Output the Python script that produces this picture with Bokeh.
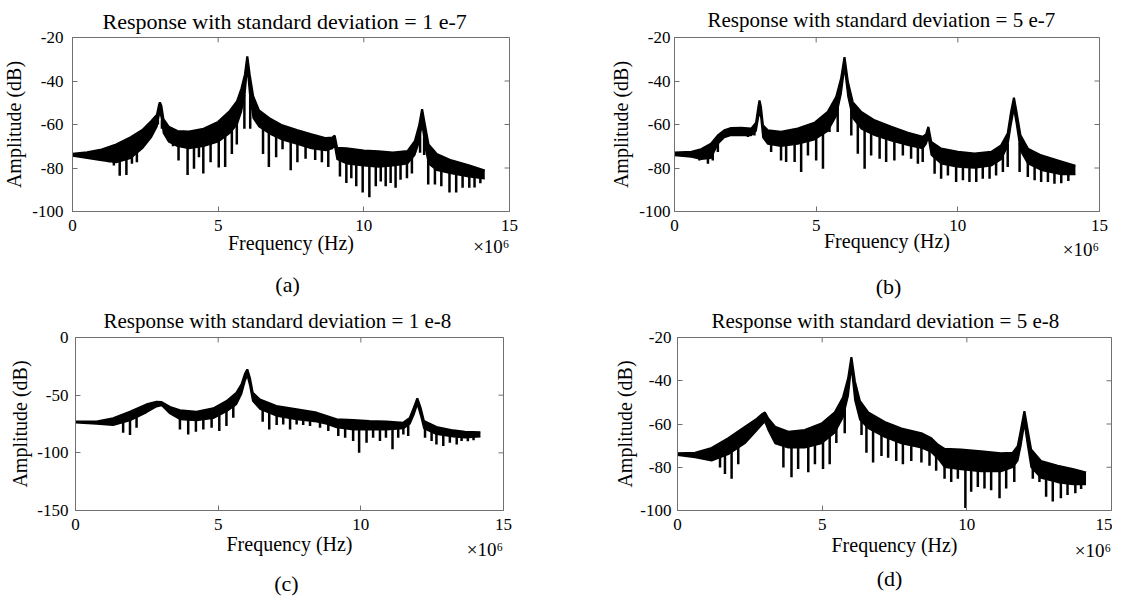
import numpy as np
from bokeh.plotting import figure
from bokeh.layouts import column, row
from bokeh.models import Range1d, LinearAxis, FixedTicker
from bokeh.embed import file_html
from bokeh.resources import INLINE

# ---------------- data (frequency in MHz, amplitude in dB) ----------------
a_title = "Response with standard deviation = 1 e-7"
a_f = [0.0, 0.5, 1.0, 1.5, 2.0, 2.4, 2.7, 2.9, 2.97, 3.0, 3.05, 3.12, 3.3, 3.6, 4.0, 4.5, 5.0, 5.4, 5.65, 5.8,
       5.92, 6.0, 6.08, 6.2, 6.4, 6.8, 7.2, 7.7, 8.2, 8.7, 8.92, 9.0, 9.08, 9.4, 10.0, 10.5, 11.0, 11.5, 11.75,
       11.9, 12.0, 12.1, 12.22, 12.5, 13.0, 13.6, 14.15]
a_top = [-73.5, -72.8, -71.5, -69.2, -65.8, -62.5, -58.5, -55.5, -51.0, -49.8, -51.5, -57.5, -61.0, -63.0, -63.3,
         -62.0, -58.8, -53.8, -49.3, -43.5, -37.0, -28.7, -37.0, -47.0, -53.5, -57.5, -60.4, -62.6, -64.5, -66.3,
         -66.0, -65.1, -70.7, -71.0, -72.0, -72.4, -72.9, -72.2, -67.7, -60.4, -53.0, -60.4, -69.2, -73.6, -76.5,
         -78.8, -81.2]
a_bot = [-74.5, -75.5, -76.5, -77.5, -75.5, -71, -66, -61, -56, -54, -57, -64, -68, -70, -71, -70, -68, -64, -60,
         -54, -46, -34, -46, -57, -61, -64.5, -67, -69, -71, -72, -71, -70, -76, -78, -79, -79.5, -79, -78, -74,
         -68, -60, -70, -78, -81, -82.5, -84, -85]
a_spike_f = [1.25, 1.42, 1.62, 1.85, 2.04, 2.21, 2.93, 3.07, 3.45, 3.64, 3.95, 4.17, 4.34, 4.49, 4.74, 5.02, 5.24,
             5.47, 5.64, 5.9, 6.1, 6.54, 6.74, 6.99, 7.21, 7.49, 7.72, 8.0, 8.33, 8.56, 8.78, 9.18, 9.4, 9.57, 9.74,
             9.96, 10.19, 10.41, 10.58, 10.75, 10.92, 11.09, 11.26, 11.48, 11.65, 11.93, 12.07, 12.21, 12.44, 12.66,
             12.94, 13.17, 13.39, 13.62, 13.8, 14.0]
a_spike_db = [-77.3, -78.8, -83.6, -83.2, -78.0, -77.3, -60.0, -62.0, -70.0, -76.6, -83.2, -80.3, -75.1, -82.5,
              -77.3, -79.8, -79.5, -73.6, -69.2, -62.0, -62.0, -73.6, -79.5, -75.1, -71.4, -81.0, -77.3, -75.8,
              -76.3, -77.3, -79.5, -83.9, -86.9, -84.7, -88.4, -91.3, -93.5, -88.4, -86.2, -88.4, -86.9, -89.1,
              -85.4, -84.7, -82.5, -73.0, -74.0, -87.6, -87.6, -88.4, -91.3, -91.3, -89.1, -89.1, -89.0, -87.0]

b_title = "Response with standard deviation = 5 e-7"
b_f = [0.0, 0.6, 0.94, 1.29, 1.53, 1.76, 2.0, 2.35, 2.71, 2.88, 2.96, 3.0, 3.05, 3.12, 3.29, 3.76, 4.35, 4.94,
       5.41, 5.71, 5.88, 6.0, 6.12, 6.29, 6.59, 7.06, 7.65, 8.24, 8.76, 8.88, 8.96, 9.06, 9.41, 10.0, 10.59, 11.18,
       11.53, 11.76, 11.88, 11.98, 12.07, 12.21, 12.47, 12.94, 13.65, 14.15]
b_top = [-72.9, -72.6, -71.4, -68.8, -65.0, -62.7, -61.6, -61.5, -61.9, -59.2, -52.0, -48.9, -52.0, -60.4, -62.7,
         -63.4, -61.9, -59.2, -54.2, -47.3, -38.9, -29.0, -40.5, -49.7, -54.2, -58.1, -61.1, -63.8, -65.7, -64.5,
         -61.1, -68.0, -71.1, -72.6, -73.4, -72.6, -69.6, -64.2, -54.2, -47.7, -54.2, -65.0, -71.1, -74.2, -77.0,
         -79.0]
b_bot = [-74.2, -75, -76, -75.5, -69, -66, -65, -65, -65, -63, -57, -54, -57, -66, -69, -70, -69, -67, -63, -56,
         -46, -34, -47, -57, -62, -65, -67.5, -69.5, -71, -69, -66, -74, -78, -79.5, -80, -79, -76, -70, -60, -53,
         -60, -72, -78, -81, -83, -83]
b_spike_f = [0.88, 1.18, 1.35, 1.53, 2.59, 2.82, 3.41, 3.76, 3.94, 4.24, 4.47, 4.71, 5.0, 5.24, 5.47, 5.76, 6.24,
             6.47, 6.71, 6.94, 7.24, 7.47, 7.76, 8.06, 8.35, 8.59, 8.76, 9.18, 9.41, 9.65, 9.94, 10.18, 10.41,
             10.65, 10.88, 11.12, 11.35, 11.59, 11.76, 12.18, 12.47, 12.71, 12.94, 13.18, 13.41, 13.65, 13.9]
b_spike_db = [-76.5, -78.0, -76.5, -72.6, -65.8, -65.0, -72.6, -76.5, -77.2, -77.2, -81.8, -74.2, -76.5, -80.3,
              -63.4, -63.4, -65.0, -73.4, -80.3, -74.2, -75.7, -77.2, -76.5, -74.2, -75.7, -78.0, -77.2, -82.6,
              -84.9, -83.4, -86.4, -85.6, -86.4, -86.4, -84.9, -84.9, -83.4, -81.8, -79.5, -81.8, -84.1, -85.6,
              -86.4, -86.4, -87.2, -87.0, -86.0]

c_title = "Response with standard deviation = 1 e-8"
c_f = [0.0, 0.74, 1.32, 1.91, 2.49, 2.84, 3.02, 3.31, 3.66, 4.24, 4.83, 5.3, 5.64, 5.82, 5.94, 6.02, 6.11, 6.21,
       6.46, 7.04, 7.75, 8.45, 8.8, 9.15, 9.73, 10.3, 10.9, 11.49, 11.72, 11.86, 11.98, 12.1, 12.21, 12.65, 13.24,
       13.65, 14.19]
c_top = [-73.0, -73.0, -70.1, -64.4, -58.0, -55.7, -56.0, -60.3, -63.2, -64.4, -61.5, -55.1, -47.9, -40.7, -31.4,
         -27.7, -34.9, -47.9, -53.7, -59.5, -62.3, -65.2, -68.1, -71.0, -71.6, -72.5, -73.0, -73.9, -69.6, -60.9,
         -52.8, -61.5, -72.5, -77.7, -80.6, -81.7, -82.3]
c_bot = [-74, -75, -76, -72, -65, -60, -59, -66, -71, -72, -70, -64, -58, -49, -38, -33, -42, -55, -62, -68, -71,
         -73, -75, -78, -80, -80, -80, -79, -75, -67, -58, -68, -79, -84, -86, -87, -86]
c_spike_f = [1.67, 1.91, 2.14, 3.66, 3.95, 4.22, 4.48, 4.77, 5.04, 5.29, 5.53, 6.56, 6.79, 7.05, 7.28, 7.52, 7.75,
             7.98, 8.22, 8.57, 8.86, 9.21, 9.45, 9.73, 9.94, 10.2, 10.43, 10.67, 10.88, 11.11, 11.31, 11.49, 11.66,
             12.25, 12.48, 12.65, 12.89, 13.12, 13.36, 13.53, 13.75, 13.95]
c_spike_db = [-82.6, -84.6, -78.2, -79.7, -84.0, -81.7, -79.7, -78.2, -81.1, -76.8, -69.6, -73.0, -79.7, -75.9,
              -75.4, -79.7, -75.4, -75.9, -76.8, -78.2, -81.1, -85.5, -86.9, -89.8, -99.9, -91.2, -86.9, -89.8,
              -86.9, -97.0, -86.9, -84.0, -85.5, -86.9, -89.8, -92.7, -94.1, -91.2, -92.7, -89.8, -90.0, -89.0]

d_title = "Response with standard deviation = 5 e-8"
d_f = [0.0, 0.61, 1.18, 1.76, 2.33, 2.74, 2.94, 3.02, 3.14, 3.37, 3.83, 4.4, 4.98, 5.44, 5.72, 5.9, 6.01, 6.13,
       6.3, 6.59, 7.16, 7.74, 8.43, 8.77, 9.0, 9.23, 9.8, 10.49, 11.18, 11.59, 11.76, 11.87, 11.99, 12.1, 12.22,
       12.56, 13.14, 13.66, 14.12]
d_top = [-73.6, -73.3, -71.1, -66.6, -61.3, -57.6, -55.3, -54.7, -57.6, -61.3, -63.6, -62.8, -59.8, -54.6, -47.8,
         -38.8, -29.1, -40.3, -49.3, -54.6, -59.1, -62.1, -64.3, -66.6, -69.6, -71.5, -71.8, -72.6, -73.6, -73.3,
         -70.3, -62.8, -54.1, -62.8, -71.8, -77.1, -79.3, -80.8, -82.5]
d_bot = [-74.5, -75.5, -77, -74, -69, -63, -60, -59, -63, -69, -71, -71, -69, -64, -57, -47, -34, -49, -58, -62,
         -66, -69, -71, -73, -76, -80, -81, -82, -82, -80, -77, -70, -60, -70, -80, -85, -87, -88, -88]
d_spike_f = [1.47, 1.64, 1.87, 2.1, 3.66, 3.94, 4.17, 4.52, 4.75, 5.03, 5.26, 5.49, 5.78, 6.36, 6.53, 6.76, 7.05,
             7.28, 7.56, 7.79, 8.08, 8.43, 8.71, 8.94, 9.23, 9.46, 9.69, 9.95, 10.15, 10.38, 10.61, 10.84, 11.13,
             11.36, 11.64, 12.28, 12.51, 12.74, 12.97, 13.25, 13.48, 13.75, 13.95]
d_spike_db = [-80.1, -83.1, -85.3, -78.6, -80.1, -84.6, -80.8, -82.3, -78.6, -80.8, -78.6, -68.8, -64.3, -65.1,
              -73.3, -77.8, -74.8, -75.6, -77.1, -78.6, -77.1, -77.8, -79.3, -81.6, -85.3, -86.8, -85.3, -98.8,
              -91.3, -89.1, -89.8, -90.6, -94.3, -89.8, -86.8, -85.3, -86.8, -93.6, -95.8, -94.3, -92.8, -92.0,
              -90.0]

x_ticks = [0, 5, 10, 15]
y_ticks_1 = [-100, -80, -60, -40, -20]
y_ticks_2 = [-150, -100, -50, 0]
captions = ["(a)", "(b)", "(c)", "(d)"]
x_label = "Frequency (Hz)"
y_label = "Amplitude (dB)"
x_scale_text = "\u00d710\u2076"

# ---------------- styling / layout ----------------
FONT = "Liberation Serif"
GRAY = "#707070"
FIG_W = 556
K = 1.33        # text box height / font size as laid out
B = 0.9         # baseline offset from box top / font size
TICK = 5        # inward tick length in px
XT_SD = 8       # x tick label standoff

panels = [
    dict(title=a_title, f=a_f, top=a_top, bot=a_bot, sf=a_spike_f, sd=a_spike_db, yr=(-100, -20), yt=y_ticks_1,
         cap=captions[0], h=303, mbl=64, fw=445, mbt=32, fh=181, ytsd=9, ylsd=4, toff=30, tsd=4, tfs="22px",
         times_dy=44, xlab_dy=42, cap_dy=76, capx=219),
    dict(title=b_title, f=b_f, top=b_top, bot=b_bot, sf=b_spike_f, sd=b_spike_db, yr=(-100, -20), yt=y_ticks_1,
         cap=captions[1], h=303, mbl=118, fw=425, mbt=37, fh=174, ytsd=4, ylsd=4, toff=33, tsd=8, tfs="21px",
         times_dy=47, xlab_dy=40, cap_dy=77, capx=214),
    dict(title=c_title, f=c_f, top=c_top, bot=c_bot, sf=c_spike_f, sd=c_spike_db, yr=(-150, 0), yt=y_ticks_2,
         cap=captions[2], h=297, mbl=75, fw=428, mbt=34, fh=173, ytsd=7, ylsd=3, toff=28, tsd=6, tfs="21px",
         times_dy=48, xlab_dy=44, cap_dy=80, capx=211),
    dict(title=d_title, f=d_f, top=d_top, bot=d_bot, sf=d_spike_f, sd=d_spike_db, yr=(-100, -20), yt=y_ticks_1,
         cap=captions[3], h=297, mbl=121, fw=434, mbt=34, fh=178, ytsd=6, ylsd=1, toff=34, tsd=6, tfs="21px",
         times_dy=49, xlab_dy=45, cap_dy=78, capx=212),
]


def plain_axis(ax, ticks, size, standoff):
    ax.ticker = FixedTicker(ticks=ticks)
    ax.axis_line_color = None
    ax.major_tick_line_color = None
    ax.minor_tick_line_color = None
    ax.major_label_text_font = FONT
    ax.major_label_text_font_size = size
    ax.major_label_text_color = "black"
    ax.major_label_standoff = standoff
    ax.axis_label_text_font = FONT
    ax.axis_label_text_font_size = "20px"
    ax.axis_label_text_font_style = "normal"
    ax.axis_label_text_color = "black"


def build(d):
    ymin, ymax = d["yr"]
    mbb = d["h"] - d["mbt"] - d["fh"]
    p = figure(width=FIG_W, height=d["h"], x_range=Range1d(0, 15), y_range=Range1d(ymin, ymax),
               output_backend="svg", toolbar_location=None, title=d["title"],
               min_border_left=d["mbl"], min_border_right=FIG_W - d["mbl"] - d["fw"],
               min_border_top=d["mbt"], min_border_bottom=mbb,
               y_axis_label=y_label)
    p.grid.visible = False
    p.outline_line_color = GRAY
    p.outline_line_width = 1
    p.background_fill_color = "white"
    p.border_fill_color = "white"

    # title
    p.title.align = "left"
    p.title.offset = d["toff"]
    p.title.vertical_align = "top"
    p.title.standoff = d["tsd"]
    p.title.text_font = FONT
    p.title.text_font_size = d["tfs"]
    p.title.text_font_style = "normal"
    p.title.text_color = "black"

    # main bottom axis: tick labels 0..15
    xa = p.xaxis[0]
    plain_axis(xa, x_ticks, "17px", XT_SD)
    xa.axis_line_color = GRAY
    xa.major_tick_line_color = GRAY
    xa.major_tick_in = TICK
    xa.major_tick_out = 0

    # left axis
    ya = p.yaxis[0]
    plain_axis(ya, d["yt"], "17px", d["ytsd"])
    ya.axis_line_color = GRAY
    ya.major_tick_line_color = GRAY
    ya.major_tick_in = TICK
    ya.major_tick_out = 0
    ya.major_label_overrides = {t: str(t) for t in d["yt"]}
    ya.axis_label_standoff = d["ylsd"]

    # second bottom axis: "x10^6" and the axis title
    ax1_size = XT_SD + K * 17
    s2 = round(d["times_dy"] - ax1_size - B * 19)
    ext2 = s2 + K * 19
    als = round(d["xlab_dy"] - ax1_size - ext2 - B * 20)
    ax2_size = ext2 + als + K * 20
    x_times = 15.0 - 18.5 / d["fw"] * 15.0
    ax2 = LinearAxis(axis_label=x_label)
    plain_axis(ax2, [x_times], "19px", s2)
    ax2.major_label_overrides = {x_times: x_scale_text}
    ax2.axis_label_standoff = als
    p.add_layout(ax2, "below")

    # third bottom axis: sub-figure caption
    cap_dy = min(d["cap_dy"], mbb - K * 22 / 2 - 0.5)
    s3 = int(np.floor(cap_dy - K * 22 / 2 - ax1_size - ax2_size))
    x_cap = d["capx"] / d["fw"] * 15.0
    ax3 = LinearAxis()
    plain_axis(ax3, [x_cap], "22px", s3)
    ax3.major_label_overrides = {x_cap: d["cap"]}
    p.add_layout(ax3, "below")

    # inward ticks on the top and right edges of the box
    ty = ymax - TICK / d["fh"] * (ymax - ymin)
    tx = 15.0 - TICK / d["fw"] * 15.0
    xt = np.array(x_ticks, dtype=float)
    yt = np.array(d["yt"], dtype=float)
    p.segment(x0=xt, y0=np.full(len(xt), float(ymax)), x1=xt, y1=np.full(len(xt), ty),
              line_color=GRAY, line_width=1)
    p.segment(x0=np.full(len(yt), 15.0), y0=yt, x1=np.full(len(yt), tx), y1=yt,
              line_color=GRAY, line_width=1)

    # spectrum
    f = np.array(d["f"], dtype=float)
    top = np.array(d["top"], dtype=float)
    bot = np.array(d["bot"], dtype=float)
    sf = np.array(d["sf"], dtype=float)
    sd = np.array(d["sd"], dtype=float)

    p.varea(x=f, y1=bot, y2=top, fill_color="black")
    p.line(f, top, line_color="black", line_width=2.2)
    p.line(f, bot, line_color="black", line_width=1.5)
    y0 = np.interp(sf, f, bot) + 1.0
    p.segment(x0=sf, y0=y0, x1=sf, y1=sd, line_color="black", line_width=2.5)
    return p


figs = [build(d) for d in panels]
layout = column(row(figs[0], figs[1], spacing=0), row(figs[2], figs[3], spacing=0), spacing=0)

open("out.html", "w").write(file_html(layout, INLINE))
